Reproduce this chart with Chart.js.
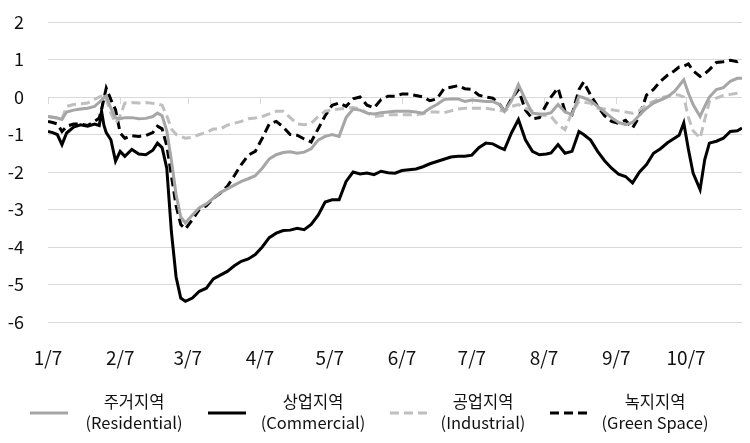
<!DOCTYPE html>
<html><head><meta charset="utf-8">
<script src="https://cdn.jsdelivr.net/npm/chart.js@4.4.0/dist/chart.umd.min.js"></script>
<style>html,body{margin:0;padding:0;background:#fff}#wrap{width:750px;height:443px;position:relative}</style>
</head><body><div id="wrap"><canvas id="c"></canvas></div>
<script>
// days since 1/7
const days = [0,2,4,6,8,11,14,17,20,22,23,24,25,27,29,31,33,36,39,42,45,47,49,51,53,55,57,59,62,65,68,71,74,77,80,83,86,89,92,95,98,101,104,107,110,113,116,119,122,125,128,131,134,137,140,143,146,149,152,155,158,161,164,167,170,173,176,179,182,185,188,191,194,196,199,202,205,208,211,214,216,219,222,225,228,230,233,236,239,242,245,248,251,254,257,260,263,266,269,271,273,275,277,280,282,284,287,290,293,296,298];
const residential = [-0.52,-0.54,-0.56,-0.6,-0.4,-0.35,-0.32,-0.3,-0.25,-0.14,-0.08,-0.02,0.03,-0.3,-0.56,-0.58,-0.55,-0.55,-0.58,-0.57,-0.52,-0.43,-0.5,-0.9,-1.7,-2.6,-3.2,-3.36,-3.15,-2.95,-2.85,-2.7,-2.55,-2.45,-2.35,-2.25,-2.18,-2.1,-1.9,-1.65,-1.54,-1.48,-1.46,-1.5,-1.47,-1.38,-1.15,-1.05,-1.0,-1.05,-0.55,-0.32,-0.35,-0.43,-0.45,-0.42,-0.4,-0.38,-0.38,-0.38,-0.4,-0.43,-0.3,-0.2,-0.07,-0.05,-0.05,-0.12,-0.08,-0.1,-0.12,-0.12,-0.2,-0.38,-0.1,0.33,-0.07,-0.43,-0.45,-0.45,-0.42,-0.2,-0.4,-0.47,0.02,-0.02,-0.1,-0.25,-0.4,-0.55,-0.68,-0.74,-0.68,-0.48,-0.3,-0.16,-0.08,0.0,0.15,0.3,0.46,0.1,-0.2,-0.52,-0.25,0.0,0.2,0.25,0.42,0.5,0.5];
const commercial = [-0.92,-0.95,-1.0,-1.27,-0.96,-0.8,-0.74,-0.78,-0.72,-0.76,-0.38,-0.75,-0.95,-1.14,-1.71,-1.45,-1.58,-1.4,-1.52,-1.54,-1.42,-1.23,-1.35,-1.9,-3.6,-4.8,-5.36,-5.45,-5.36,-5.18,-5.1,-4.85,-4.75,-4.65,-4.5,-4.38,-4.32,-4.2,-4.0,-3.75,-3.63,-3.56,-3.55,-3.5,-3.54,-3.4,-3.15,-2.8,-2.74,-2.74,-2.25,-2.0,-2.05,-2.03,-2.07,-1.98,-2.02,-2.03,-1.96,-1.94,-1.92,-1.86,-1.78,-1.72,-1.66,-1.6,-1.58,-1.58,-1.55,-1.35,-1.23,-1.25,-1.35,-1.4,-0.96,-0.6,-1.14,-1.45,-1.54,-1.52,-1.49,-1.27,-1.5,-1.45,-0.92,-1.0,-1.15,-1.45,-1.7,-1.9,-2.06,-2.12,-2.29,-2.0,-1.8,-1.5,-1.38,-1.22,-1.1,-1.02,-0.69,-1.4,-2.03,-2.47,-1.67,-1.23,-1.18,-1.1,-0.92,-0.9,-0.83];
const industrial = [-0.52,-0.54,-0.56,-0.58,-0.25,-0.2,-0.18,-0.16,-0.06,0.0,0.03,0.04,-0.05,-0.43,-0.7,-0.5,-0.16,-0.15,-0.16,-0.15,-0.17,-0.18,-0.22,-0.5,-0.85,-1.0,-1.05,-1.1,-1.07,-1.0,-0.95,-0.85,-0.85,-0.75,-0.7,-0.65,-0.58,-0.56,-0.52,-0.45,-0.38,-0.38,-0.55,-0.72,-0.74,-0.7,-0.52,-0.38,-0.34,-0.32,-0.3,-0.28,-0.32,-0.42,-0.52,-0.5,-0.47,-0.47,-0.47,-0.47,-0.47,-0.45,-0.4,-0.4,-0.42,-0.37,-0.32,-0.3,-0.3,-0.3,-0.3,-0.33,-0.36,-0.38,-0.25,-0.2,-0.3,-0.38,-0.47,-0.5,-0.52,-0.74,-0.87,-0.4,-0.12,-0.14,-0.17,-0.3,-0.32,-0.34,-0.37,-0.4,-0.43,-0.36,-0.2,-0.12,-0.02,0.02,0.06,0.05,0.0,-0.55,-0.9,-1.1,-0.6,-0.12,-0.03,0.04,0.07,0.1,0.11];
const greenSpace = [-0.65,-0.68,-0.72,-0.92,-0.78,-0.72,-0.72,-0.76,-0.65,-0.56,-0.34,-0.05,0.24,-0.07,-0.34,-0.96,-1.1,-1.03,-1.05,-1.03,-0.95,-0.78,-0.85,-1.3,-2.1,-2.9,-3.4,-3.52,-3.27,-3.0,-2.9,-2.7,-2.56,-2.38,-2.1,-1.8,-1.55,-1.45,-1.1,-0.72,-0.65,-0.8,-1.0,-1.02,-1.12,-1.2,-0.85,-0.5,-0.22,-0.16,-0.25,-0.05,0.0,-0.22,-0.29,-0.07,0.02,0.02,0.08,0.08,0.04,0.0,-0.1,-0.05,0.22,0.26,0.3,0.22,0.2,0.05,0.0,-0.03,-0.2,-0.38,-0.05,0.2,-0.35,-0.58,-0.55,-0.2,0.0,0.24,-0.38,-0.47,0.2,0.4,0.05,-0.25,-0.5,-0.65,-0.7,-0.62,-0.83,-0.5,0.05,0.2,0.42,0.58,0.7,0.8,0.82,0.88,0.7,0.55,0.62,0.73,0.92,0.94,0.98,0.94,1.02];
const tickDays = [0,31,60,91,121,152,182,213,244,274];
const tickLabels = ['1/7','2/7','3/7','4/7','5/7','6/7','7/7','8/7','9/7','10/7'];
const seriesKo = ['주거지역','상업지역','공업지역','녹지지역'];
const seriesEn = ['(Residential)','(Commercial)','(Industrial)','(Green Space)'];

const FONT = "'Noto Sans CJK KR','Noto Sans',sans-serif";
const TEXT = '#111';
const pts = arr => days.map((d,i)=>({x:d,y:arr[i]}));
const styles = [
  {color:'#a6a6a6', dash:[]},
  {color:'#000000', dash:[]},
  {color:'#bfbfbf', dash:[9,5]},
  {color:'#000000', dash:[9,5]}
];
const seriesData = [residential, commercial, industrial, greenSpace];

const zeroTicks = {
  id:'zeroTicks',
  beforeDatasetsDraw(chart){
    const {ctx, scales:{x,y}} = chart;
    const y0 = y.getPixelForValue(0);
    ctx.save(); ctx.strokeStyle='#d9d9d9'; ctx.lineWidth=1;
    tickDays.forEach(d=>{const px=Math.round(x.getPixelForValue(d))+0.5; ctx.beginPath(); ctx.moveTo(px,y0); ctx.lineTo(px,y0+7); ctx.stroke();});
    ctx.restore();
  }
};
const legendPlugin = {
  id:'customLegend',
  afterDraw(chart){
    const ctx = chart.ctx;
    const items = [{x0:30,x1:68,cx:134},{x0:208,x1:246,cx:313},{x0:390,x1:428,cx:483},{x0:550,x1:588,cx:655}];
    ctx.save();
    chart.data.datasets.forEach((ds,i)=>{
      const it = items[i];
      ctx.strokeStyle = ds.borderColor; ctx.lineWidth = ds.borderWidth;
      ctx.setLineDash(ds.borderDash||[]);
      ctx.beginPath(); ctx.moveTo(it.x0,413); ctx.lineTo(it.x1,413); ctx.stroke();
      ctx.setLineDash([]);
      ctx.fillStyle=TEXT; ctx.font = '16.5px '+FONT; ctx.textAlign='center'; ctx.textBaseline='middle';
      ctx.fillText(seriesKo[i], it.cx, 402);
      ctx.fillText(seriesEn[i], it.cx, 423);
    });
    ctx.restore();
  }
};

new Chart(document.getElementById('c'), {
  type:'line',
  data:{datasets: seriesData.map((arr,i)=>({
    label: seriesKo[i]+' '+seriesEn[i],
    data: pts(arr),
    borderColor: styles[i].color,
    borderWidth: 3,
    borderDash: styles[i].dash,
    pointRadius:0, tension:0, fill:false
  }))},
  options:{
    responsive:true, maintainAspectRatio:false, animation:false,
    layout:{padding:{top:22,right:8,bottom:0,left:0}},
    plugins:{legend:{display:false}, tooltip:{enabled:false}},
    scales:{
      x:{type:'linear', min:0, max:298,
        afterBuildTicks(s){ s.ticks = tickDays.map(v=>({value:v})); },
        afterFit(s){ s.height = 121; s.paddingLeft = 0; s.paddingRight = 0; },
        grid:{display:false, drawTicks:false}, border:{display:false},
        ticks:{autoSkip:false, maxRotation:0, padding:24, color:TEXT, font:{family:FONT,size:19},
          callback:(v)=>{const k=tickDays.indexOf(v); return k>=0?tickLabels[k]:'';}}
      },
      y:{min:-6, max:2,
        afterFit(s){ s.width = 48; s.paddingTop = 0; s.paddingBottom = 0; },
        grid:{color:'#d9d9d9', lineWidth:1, drawTicks:false}, border:{display:false},
        ticks:{stepSize:1, padding:24, color:TEXT, font:{family:FONT,size:18}}
      }
    }
  },
  plugins:[zeroTicks, legendPlugin]
});
</script></body></html>
